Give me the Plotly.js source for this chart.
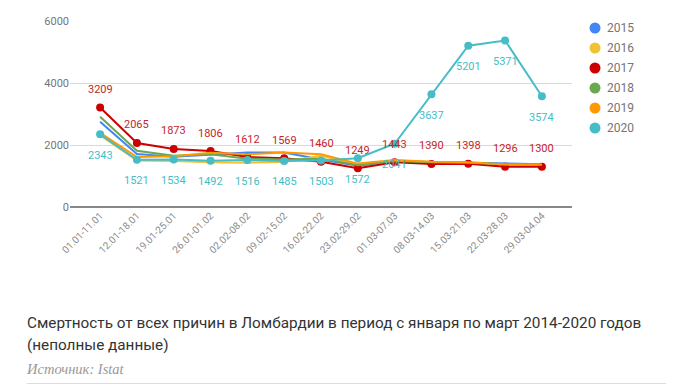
<!DOCTYPE html>
<html><head><meta charset="utf-8">
<script src="https://cdn.plot.ly/plotly-3.0.1.min.js"></script>
<style>
html,body{margin:0;padding:0;background:#fff;width:673px;height:391px;overflow:hidden;}
#chart{width:673px;height:290px;}
#cap{position:absolute;left:27px;top:312px;width:645px;font-family:Roboto,sans-serif;font-size:15.3px;line-height:22px;color:#333;white-space:nowrap;}
#src{position:absolute;left:27px;top:361px;font-family:"Liberation Serif","DejaVu Serif",serif;font-style:italic;font-size:14.5px;color:#999;}
#rule{position:absolute;left:27px;top:383px;width:639px;height:1px;background:#ddd;}
</style></head><body>
<div id="chart"></div>
<div id="cap">Смертность от всех причин в Ломбардии в период с января по март 2014-2020 годов<br>(неполные данные)</div>
<div id="src">Источник: Istat</div>
<div id="rule"></div>
<script>
const categories = ["01.01-11.01","12.01-18.01","19.01-25.01","26.01-01.02","02.02-08.02","09.02-15.02","16.02-22.02","23.02-29.02","01.03-07.03","08.03-14.03","15.03-21.03","22.03-28.03","29.03-04.04"];
const years = ["2015","2016","2017","2018","2019","2020"];
const v2015 = [2750,1710,1620,1680,1760,1760,1530,1330,1470,1450,1430,1420,1380];
const v2016 = [2320,1500,1480,1440,1430,1450,1650,1360,1500,1460,1400,1350,1350];
const v2017 = [3209,2065,1873,1806,1612,1569,1460,1249,1443,1390,1398,1296,1300];
const v2018 = [2913,1816,1650,1700,1560,1530,1560,1350,1480,1440,1430,1380,1360];
const v2019 = [2390,1610,1640,1750,1700,1760,1700,1400,1520,1460,1440,1370,1370];
const v2020 = [2343,1521,1534,1492,1516,1485,1503,1572,2041,3637,5201,5371,3574];
const yTicks = [0,2000,4000,6000];
const colors = ["#4285f4","#f1c232","#cc0000","#6aa84f","#ff9900","#46bdc6"];
const series = [v2015,v2016,v2017,v2018,v2019,v2020];

const traces = [];
series.forEach((vals,i)=>{
  const withMarkers = (i===2||i===5);
  traces.push({
    x: categories, y: vals, type:'scatter',
    mode: withMarkers ? 'lines+markers' : 'lines',
    line:{color:colors[i],width:2},
    marker:{color:colors[i],size:8},
    showlegend:false, hoverinfo:'skip'
  });
});

const annotations = [];
categories.forEach((c,j)=>{
  annotations.push({x:c,y:v2017[j],text:String(v2017[j]),showarrow:false,yshift:18,
    font:{family:'Roboto',size:11,color:'#c4262b'}});
  annotations.push({x:c,y:v2020[j],text:String(v2020[j]),showarrow:false,yshift:-21,
    font:{family:'Roboto',size:11,color:'#46bdc6'}});
});

// manual legend (plot area: x 70..572, y 21..207)
const plotL=70, plotW=502, plotT=21, plotH=186;
const shapes = [];
years.forEach((yr,i)=>{
  const py = 28 + i*20;
  const yf = (plotT+plotH-py)/plotH;
  shapes.push({type:'circle',xref:'paper',yref:'paper',xsizemode:'pixel',ysizemode:'pixel',
    xanchor:(595-plotL)/plotW, yanchor:yf, x0:-5.5,x1:5.5,y0:-5.5,y1:5.5,
    fillcolor:colors[i],line:{width:0}});
  annotations.push({xref:'paper',yref:'paper',x:(605-plotL)/plotW,y:yf,xanchor:'left',yanchor:'middle',
    text:yr,showarrow:false,font:{family:'Roboto',size:12,color:'#757575'}});
});

const layout = {
  width:673,height:290,
  margin:{l:70,r:101,t:21,b:83},
  paper_bgcolor:'#fff',plot_bgcolor:'#fff',
  font:{family:'Roboto',color:'#757575'},
  xaxis:{type:'category',tickangle:-45,tickfont:{size:10,color:'#8a8a8a'},
    showgrid:false,showline:false,ticks:'',zeroline:false,fixedrange:true},
  yaxis:{range:[0,6000],tickvals:yTicks,tickfont:{size:11,color:'#757575'},
    gridcolor:'#d9d9d9',gridwidth:1,zeroline:true,zerolinecolor:'#888',zerolinewidth:2,
    showline:false,ticks:'',ticklen:6,tickcolor:'#fff'},
  annotations:annotations,
  shapes:shapes,
  showlegend:false
};
Plotly.newPlot('chart',traces,layout,{displayModeBar:false,staticPlot:true});
</script>
</body></html>
